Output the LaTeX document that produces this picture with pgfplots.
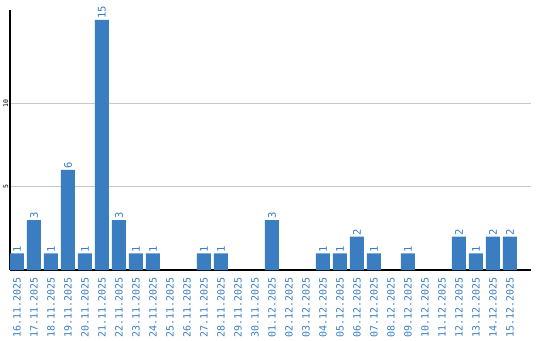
\documentclass[border=0pt]{standalone}
\usepackage{pgfplots}
\pgfplotsset{compat=1.18}
\usepackage{fontspec}
\setmainfont{Liberation Sans}
\newfontfamily\monofont{DejaVu Sans Mono}
\definecolor{barblue}{RGB}{58,126,193}
\definecolor{gridgray}{RGB}{200,200,200}
\begin{document}
\begin{tikzpicture}[x=1pt,y=1pt]
\useasboundingbox (0,0) rectangle (540,340);
\begin{axis}[
  at={(10pt,70pt)}, anchor=south west,
  scale only axis, width=521pt, height=260pt,
  xmin=-0.41, xmax=30.24, ymin=0, ymax=15.6,
  axis x line*=bottom, axis y line*=left,
  axis line style={-, line width=1.5pt, black},
  ymajorgrids, grid style={gridgray, line width=0.8pt},
  ytick={5,10}, major tick length=0,
  /pgf/number format/assume math mode=true,
  yticklabel style={rotate=90, anchor=south, font=\monofont\fontsize{6.5}{7}\selectfont, inner sep=1.5pt, text=black},
  xtick={0,...,29},
  xticklabels={16.11.2025,17.11.2025,18.11.2025,19.11.2025,20.11.2025,21.11.2025,22.11.2025,23.11.2025,24.11.2025,25.11.2025,26.11.2025,27.11.2025,28.11.2025,29.11.2025,30.11.2025,01.12.2025,02.12.2025,03.12.2025,04.12.2025,05.12.2025,06.12.2025,07.12.2025,08.12.2025,09.12.2025,10.12.2025,11.12.2025,12.12.2025,13.12.2025,14.12.2025,15.12.2025},
  xticklabel style={yshift=-7pt, rotate=90, anchor=east, font=\monofont\fontsize{10}{11}\selectfont, text=barblue, inner sep=0pt},
  ybar, bar width=14pt, bar shift=0pt,
  nodes near coords,
  nodes near coords style={rotate=90, anchor=west, font=\monofont\fontsize{10.5}{11}\selectfont, text=barblue, inner sep=1pt},
  clip=false,
]
\addplot[fill=barblue, draw=none] coordinates {
(0,1) (1,3) (2,1) (3,6) (4,1) (5,15) (6,3) (7,1) (8,1)
(11,1) (12,1) (15,3) (18,1) (19,1) (20,2) (21,1) (23,1)
(26,2) (27,1) (28,2) (29,2)
};
\end{axis}
\end{tikzpicture}
\end{document}
